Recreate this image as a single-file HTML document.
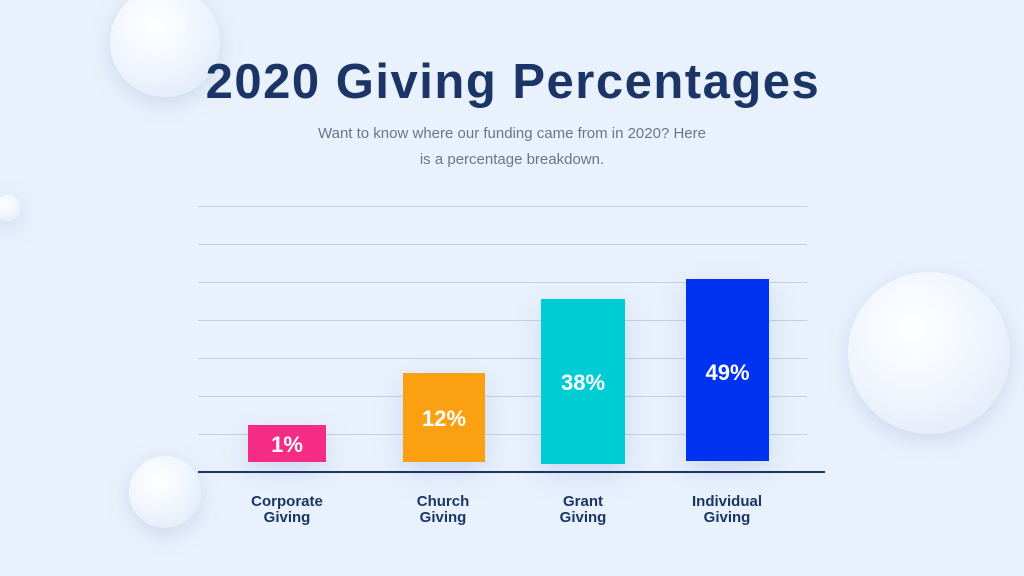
<!DOCTYPE html>
<html><head><style>
body{margin:0;width:1024px;height:576px;overflow:hidden;background:#e9f1fc;font-family:"Liberation Sans",sans-serif;position:relative}
.b{position:absolute;border-radius:50%;background:radial-gradient(circle at 40% 35%,#ffffff 0%,#f1f6fe 45%,#dbe6f7 100%);box-shadow:0 6px 20px rgba(150,175,215,.35)}
.t{position:absolute;left:0;width:1024px;text-align:center;color:#1b3566}
.g{position:absolute;left:198px;width:609px;height:1px;background:#c5cfdc}
.bar{position:absolute;color:#fff;font-weight:bold;font-size:22px;text-align:center;box-shadow:0 10px 25px rgba(140,170,220,.3)}
.l{position:absolute;width:120px;text-align:center;color:#1b3566;font-weight:bold;font-size:15px;line-height:16px}
</style></head><body>
<div class="b" style="left:110px;top:-13px;width:110px;height:110px"></div>
<div class="b" style="left:-5px;top:195px;width:26px;height:26px"></div>
<div class="b" style="left:848px;top:272px;width:162px;height:162px"></div>
<div class="b" style="left:129px;top:456px;width:72px;height:72px"></div>
<div class="t" style="top:54px;font-size:49px;font-weight:bold;letter-spacing:1.5px;text-indent:2px">2020 Giving Percentages</div>
<div class="t" style="top:121px;font-size:15px;line-height:26px;color:#6a7688">Want to know where our funding came from in 2020? Here<br>is a percentage breakdown.</div>
<div class="g" style="top:206px"></div><div class="g" style="top:244px"></div><div class="g" style="top:282px"></div><div class="g" style="top:320px"></div><div class="g" style="top:358px"></div><div class="g" style="top:396px"></div><div class="g" style="top:434px"></div>
<div class="bar" style="left:248px;top:425px;width:78px;height:37px;background:#f52c86;line-height:40px">1%</div>
<div class="bar" style="left:403px;top:373px;width:82px;height:89px;background:#fba011;line-height:92px">12%</div>
<div class="bar" style="left:541px;top:299px;width:84px;height:165px;background:#00cdd3;line-height:168px">38%</div>
<div class="bar" style="left:686px;top:279px;width:83px;height:182px;background:#0033f0;line-height:188px">49%</div>
<div style="position:absolute;left:198px;top:471px;width:627px;height:2px;background:#1b3566"></div>
<div class="l" style="left:227px;top:494px">Corporate<br>Giving</div>
<div class="l" style="left:383px;top:494px">Church<br>Giving</div>
<div class="l" style="left:523px;top:494px">Grant<br>Giving</div>
<div class="l" style="left:667px;top:494px">Individual<br>Giving</div>
</body></html>
